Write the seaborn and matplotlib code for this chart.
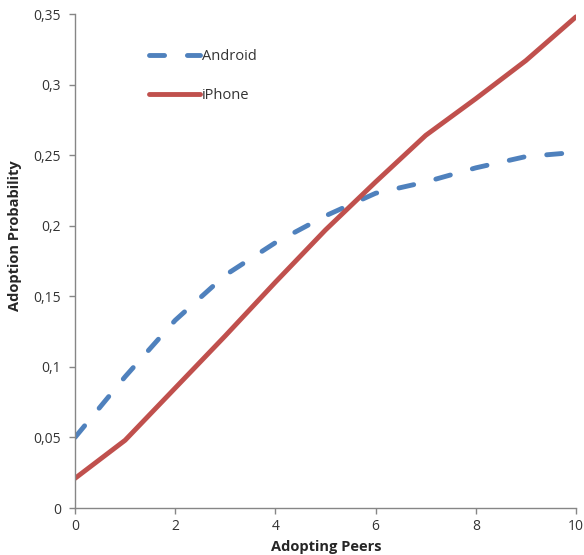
import matplotlib
matplotlib.use("Agg")
import matplotlib.pyplot as plt
import seaborn as sns
import pandas as pd
from matplotlib.lines import Line2D

peers = [0, 1, 2, 3, 4, 5, 6, 7, 8, 9, 10]
android = [0.050, 0.093, 0.133, 0.165, 0.188, 0.207, 0.223, 0.231, 0.241, 0.249, 0.252]
iphone = [0.021, 0.048, 0.085, 0.122, 0.160, 0.197, 0.231, 0.264, 0.290, 0.317, 0.348]
yticks = [0, 0.05, 0.1, 0.15, 0.2, 0.25, 0.3, 0.35]
ytick_labels = ["0", "0,05", "0,1", "0,15", "0,2", "0,25", "0,3", "0,35"]
xticks = [0, 2, 4, 6, 8, 10]

sns.set_theme(style="white")
plt.rcParams['font.family'] = ['Open Sans', 'DejaVu Sans']

df = pd.DataFrame({
    "Adopting Peers": peers * 2,
    "Adoption Probability": android + iphone,
    "Series": ["Android"] * len(peers) + ["iPhone"] * len(peers),
})

fig = plt.figure(figsize=(5.84, 5.55), dpi=100)
ax = fig.add_axes([75/584, 1 - 508/555, (576-75)/584, (508-14)/555])

blue = "#4F81BD"
red = "#C0504D"
lw = 3.5
dash = (3.1, 4.7)
sns.lineplot(data=df, x="Adopting Peers", y="Adoption Probability", hue="Series",
             style="Series", palette={"Android": blue, "iPhone": red},
             dashes={"Android": dash, "iPhone": ""}, linewidth=lw, ax=ax,
             legend=False)
for line in ax.get_lines():
    line.set_dash_capstyle("round")

ax.set_xlim(0, 10)
ax.set_ylim(0, 0.35)
ax.set_xticks(xticks)
ax.set_xticklabels([str(x) for x in xticks], fontsize=10, color="#333333")
ax.set_yticks(yticks)
ax.set_yticklabels(ytick_labels, fontsize=10, color="#333333")
ax.tick_params(axis="both", direction="out", length=4, width=1, color="#868686",
               bottom=True, left=True, pad=6)
ax.tick_params(axis="x", pad=4)
for s in ["top", "right"]:
    ax.spines[s].set_visible(False)
for s in ["left", "bottom"]:
    ax.spines[s].set_color("#868686")
    ax.spines[s].set_linewidth(1)

ax.set_xlabel("")
ax.set_ylabel("")
fig.text(326/584, 1 - 554/555, "Adopting Peers", ha="center", va="bottom",
         fontsize=10.5, fontweight="bold")
fig.text(15/584, 1 - 236/555, "Adoption Probability", ha="center", va="center",
         rotation=90, fontsize=10.5, fontweight="bold")

handles = [Line2D([], [], color=blue, lw=lw, dashes=dash, dash_capstyle="round"),
           Line2D([], [], color=red, lw=lw)]
leg = ax.legend(handles, ["Android", "iPhone"], loc="upper left",
                bbox_to_anchor=(0.121, 0.955), frameon=False, fontsize=10.5,
                handlelength=3.5, handletextpad=0.15, labelspacing=1.6)
for t in leg.get_texts():
    t.set_color("#333333")

fig.savefig("out.png", dpi=100)
